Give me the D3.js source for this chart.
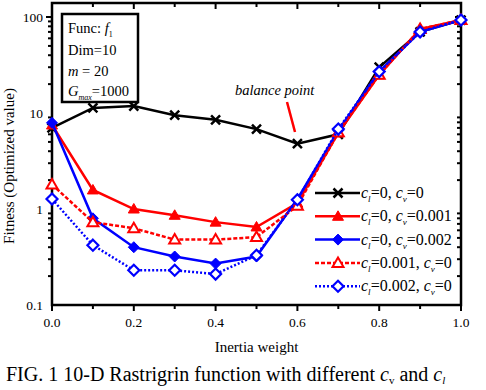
<!DOCTYPE html>
<html>
<head>
<meta charset="utf-8">
<script src="https://cdn.jsdelivr.net/npm/d3@7"></script>
<style>
  body { margin: 0; background: #fff; }
  svg { font-family: "Liberation Serif", "Times New Roman", serif; }
</style>
</head>
<body>
<svg id="chart" width="486" height="390"></svg>
<script>
  // inertia weight values
  const weights = [0.0, 0.1, 0.2, 0.3, 0.4, 0.5, 0.6, 0.7, 0.8, 0.9, 1.0];

  // fitness per setting
  const cl0cv0     = [7.0, 11.3, 11.8, 9.5, 8.5, 6.8, 4.8, 6.0, 30, 70, 93];
  const cl0cv001   = [7.5, 1.58, 1.0, 0.86, 0.73, 0.65, 1.15, 6.2, 25, 75, 93];
  const cl0cv002   = [7.9, 0.8, 0.40, 0.32, 0.27, 0.32, 1.27, 6.6, 27, 70, 93];
  const cl001cv0   = [1.8, 0.73, 0.63, 0.48, 0.48, 0.51, 1.08, 6.3, 25, 75, 93];
  const cl002cv0   = [1.27, 0.42, 0.23, 0.23, 0.21, 0.33, 1.25, 6.8, 27, 70, 93];

  const xTicks = [0, 0.2, 0.4, 0.6, 0.8, 1.0];
  const yTicks = [0.1, 1, 10, 100];

  const series = [
    { cl: "0", cv: "0", values: cl0cv0, color: "#000", dash: null, marker: "x", open: false },
    { cl: "0", cv: "0.001", values: cl0cv001, color: "#f00", dash: null, marker: "tri", open: false },
    { cl: "0", cv: "0.002", values: cl0cv002, color: "#00f", dash: null, marker: "dia", open: false },
    { cl: "0.001", cv: "0", values: cl001cv0, color: "#f00", dash: "4,2", marker: "tri", open: true },
    { cl: "0.002", cv: "0", values: cl002cv0, color: "#00f", dash: "2,2", marker: "dia", open: true }
  ];

  const svg = d3.select("#chart");
  const x = d3.scaleLinear().domain([0, 1]).range([52, 461]);
  const y = d3.scaleLog().domain([0.1, 140]).range([305, 3]);

  // frame
  svg.append("rect")
    .attr("x", x(0)).attr("y", y(140))
    .attr("width", x(1) - x(0)).attr("height", y(0.1) - y(140))
    .attr("fill", "none").attr("stroke", "#000").attr("stroke-width", 2.5);

  // x ticks
  const xAll = d3.range(0, 11).map(i => i / 10);
  xAll.forEach(v => {
    const major = xTicks.some(t => Math.abs(t - v) < 1e-9);
    const len = major ? 6 : 4;
    svg.append("line").attr("x1", x(v)).attr("x2", x(v))
      .attr("y1", y(0.1)).attr("y2", y(0.1) + len)
      .attr("stroke", "#000").attr("stroke-width", 2);
    svg.append("line").attr("x1", x(v)).attr("x2", x(v))
      .attr("y1", y(140)).attr("y2", y(140) + len)
      .attr("stroke", "#000").attr("stroke-width", 2);
  });
  svg.selectAll(".xl").data(xTicks).enter().append("text")
    .attr("x", d => x(d)).attr("y", y(0.1) + 22)
    .attr("text-anchor", "middle").attr("font-size", 13.5)
    .text(d => d.toFixed(1));

  // y ticks (log, with minor)
  const yMinor = [];
  [0.1, 1, 10].forEach(b => { for (let k = 2; k <= 9; k++) yMinor.push(b * k); });
  yMinor.push(100);
  yMinor.forEach(v => {
    const major = yTicks.includes(v);
    const len = major ? 6 : 4;
    svg.append("line").attr("x1", x(0) - len).attr("x2", x(0))
      .attr("y1", y(v)).attr("y2", y(v))
      .attr("stroke", "#000").attr("stroke-width", 2);
    svg.append("line").attr("x1", x(1) - len).attr("x2", x(1))
      .attr("y1", y(v)).attr("y2", y(v))
      .attr("stroke", "#000").attr("stroke-width", 2);
  });
  svg.selectAll(".yl").data(yTicks).enter().append("text")
    .attr("x", x(0) - 9).attr("y", d => y(d) + 4.5)
    .attr("text-anchor", "end").attr("font-size", 13.5)
    .text(d => String(d));

  // axis titles
  svg.append("text").attr("x", x(0.5)).attr("y", 352)
    .attr("text-anchor", "middle").attr("font-size", 15).text("Inertia weight");
  svg.append("text")
    .attr("transform", `translate(14,166) rotate(-90)`)
    .attr("text-anchor", "middle").attr("font-size", 15)
    .text("Fitness (Optimized value)");

  // markers
  function drawMarker(g, s, cx, cy) {
    const fill = s.open ? "#fff" : s.color;
    if (s.marker === "x") {
      g.append("path").attr("d", `M${cx - 4.5},${cy - 4.5}L${cx + 4.5},${cy + 4.5}M${cx - 4.5},${cy + 4.5}L${cx + 4.5},${cy - 4.5}`)
        .attr("stroke", s.color).attr("stroke-width", 2.5);
    } else if (s.marker === "tri") {
      g.append("path").attr("d", `M${cx},${cy - 5.5}L${cx + 5.5},${cy + 4}L${cx - 5.5},${cy + 4}Z`)
        .attr("fill", fill).attr("stroke", s.color).attr("stroke-width", s.open ? 2 : 1);
    } else {
      g.append("path").attr("d", `M${cx},${cy - 5.5}L${cx + 5.5},${cy}L${cx},${cy + 5.5}L${cx - 5.5},${cy}Z`)
        .attr("fill", fill).attr("stroke", s.color).attr("stroke-width", s.open ? 2.2 : 1);
    }
  }

  const line = d3.line().x((d, i) => x(weights[i])).y(d => y(d));
  series.forEach(s => {
    const g = svg.append("g");
    g.append("path").datum(s.values).attr("d", line)
      .attr("fill", "none").attr("stroke", s.color).attr("stroke-width", 2.5)
      .attr("stroke-dasharray", s.dash);
    s.values.forEach((v, i) => drawMarker(g, s, x(weights[i]), y(v)));
  });

  // info box
  svg.append("rect").attr("x", 62).attr("y", 14).attr("width", 76).attr("height", 88)
    .attr("fill", "#fff").attr("stroke", "#000").attr("stroke-width", 2.5);
  const info = svg.append("g").attr("font-size", 14.5);
  let t = info.append("text").attr("x", 68).attr("y", 33);
  t.append("tspan").text("Func: ");
  t.append("tspan").attr("font-style", "italic").text("f");
  t.append("tspan").attr("font-size", 8).attr("dy", 4).text("1");
  info.append("text").attr("x", 68).attr("y", 55).text("Dim=10");
  t = info.append("text").attr("x", 68).attr("y", 76);
  t.append("tspan").attr("font-style", "italic").text("m");
  t.append("tspan").text(" = 20");
  t = info.append("text").attr("x", 68).attr("y", 96);
  t.append("tspan").attr("font-style", "italic").text("G");
  t.append("tspan").attr("font-style", "italic").attr("font-size", 8).attr("dy", 4).text("max");
  t.append("tspan").attr("dy", -4).text("=1000");

  // balance point annotation
  svg.append("text").attr("x", 235).attr("y", 95).attr("font-size", 14.5)
    .attr("font-style", "italic").text("balance point");
  svg.append("line").attr("x1", 287).attr("y1", 102).attr("x2", 295).attr("y2", 132)
    .attr("stroke", "#f00").attr("stroke-width", 2.5);

  // legend
  const legend = svg.append("g").attr("font-size", 16);
  series.forEach((s, i) => {
    const ly = 193 + i * 23.3;
    legend.append("line").attr("x1", 315).attr("x2", 360).attr("y1", ly).attr("y2", ly)
      .attr("stroke", s.color).attr("stroke-width", 2.5).attr("stroke-dasharray", s.dash);
    drawMarker(legend, s, 338, ly);
    const tx = legend.append("text").attr("x", 361).attr("y", ly + 5);
    tx.append("tspan").attr("font-style", "italic").text("c");
    tx.append("tspan").attr("font-style", "italic").attr("font-size", 9).attr("dy", 4).text("l");
    tx.append("tspan").attr("dy", -4).text("=" + s.cl + ", ");
    tx.append("tspan").attr("font-style", "italic").text("c");
    tx.append("tspan").attr("font-style", "italic").attr("font-size", 9).attr("dy", 4).text("v");
    tx.append("tspan").attr("dy", -4).text("=" + s.cv);
  });

  // caption
  const cap = svg.append("text").attr("x", 6).attr("y", 381).attr("font-size", 20);
  cap.append("tspan").text("FIG. 1 10-D Rastrigrin function with different ");
  cap.append("tspan").attr("font-style", "italic").text("c");
  cap.append("tspan").attr("font-size", 11).attr("dy", 3).text("v");
  cap.append("tspan").attr("dy", -3).text(" and ");
  cap.append("tspan").attr("font-style", "italic").text("c");
  cap.append("tspan").attr("font-style", "italic").attr("font-size", 11).attr("dy", 3).text("l");
</script>
</body>
</html>
